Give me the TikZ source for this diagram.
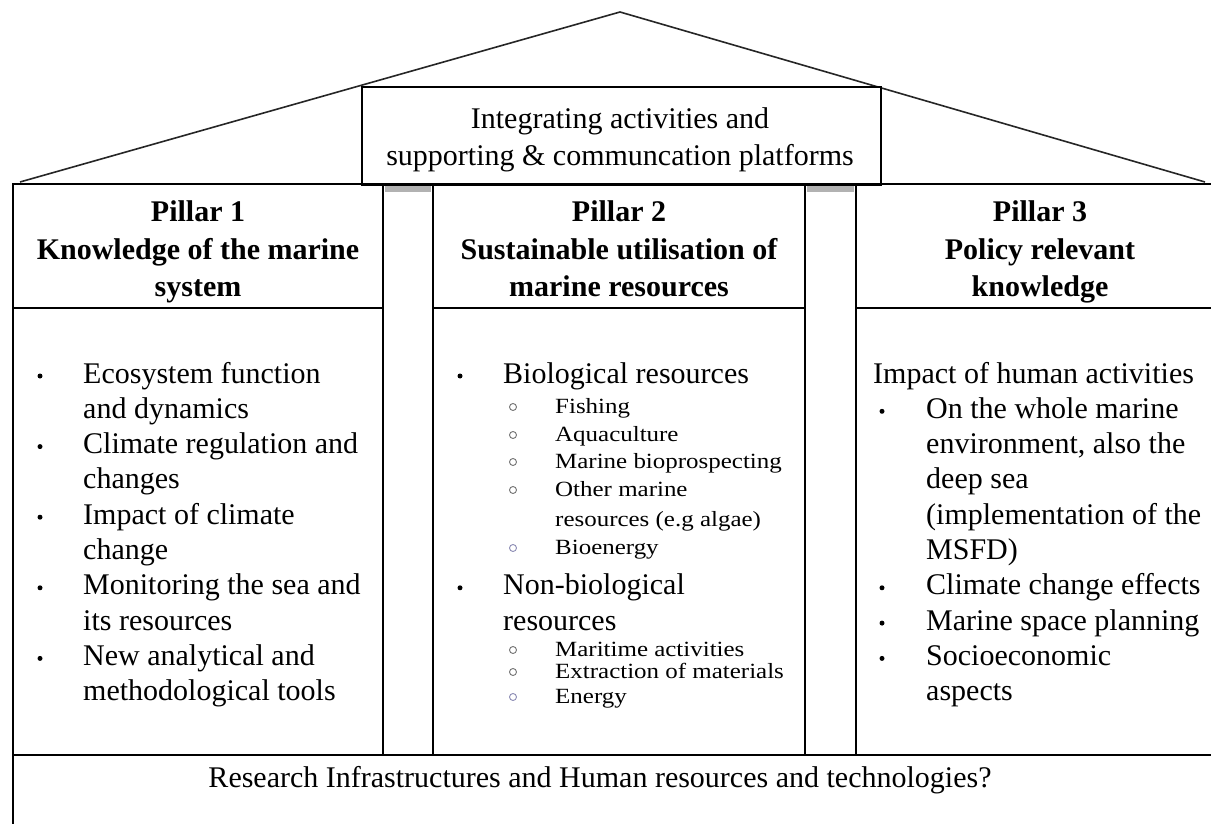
\documentclass[tikz,border=0pt]{standalone}
\usepackage{fontspec}
\setmainfont{Liberation Serif}
\newfontfamily\mysubfam[FakeStretch=1.15]{Liberation Serif}
\newcommand\mybody{\fontsize{30}{36}\selectfont}
\newcommand\mysub{\mysubfam\fontsize{21.7}{26}\selectfont}
\begin{document}
\begin{tikzpicture}[x=1pt,y=-1pt,
  frame/.style={draw=black, line width=2.6pt},
  roof/.style={draw=black!85, line width=1.6pt},
  txt/.style={anchor=base west, inner sep=0pt, font=\mybody},
  ctr/.style={anchor=base, inner sep=0pt, font=\mybody},
  hdr/.style={anchor=base, inner sep=0pt, font=\mybody\bfseries},
  sub/.style={anchor=base west, inner sep=0pt, font=\mysub},
  bul/.style={circle, fill=black, inner sep=0pt, minimum size=5pt},
  obul/.style={circle, draw=black!55, line width=0.9pt, inner sep=0pt, minimum size=7pt},
  obulb/.style={obul, draw=blue!35!black!45},
  shade/.style={fill=black!30}
]
\useasboundingbox (0,0) rectangle (1211,824);
\clip (0,0) rectangle (1211,824);
\fill[white] (0,0) rectangle (1211,824);

% roof
\coordinate (roofL) at (20,182);
\coordinate (apex) at (620,12);
\coordinate (roofR) at (1205,182);
\draw[roof] (roofL) -- (apex) -- (roofR);

% top box
\node[draw, line width=2.4pt, fill=white, minimum width=519pt, minimum height=98pt, anchor=north west, inner sep=0pt] (topbox) at (361,86) {};
\node[ctr] (top1) at (620,129) {Integrating activities and};
\node[ctr] (top2) at (620,166) {supporting \& communcation platforms};

% main beam and pillars
\draw[frame] (12,184) -- (1225,184);
\draw[frame] (13,184) rectangle (383,755);
\draw[frame] (433,184) rectangle (805,755);
\draw[frame] (856,184) rectangle (1225,755);
\draw[frame] (13,308) -- (383,308);
\draw[frame] (433,308) -- (805,308);
\draw[frame] (856,308) -- (1225,308);
\fill[shade] (385,186) rectangle (431,192);
\fill[shade] (807,186) rectangle (854,192);
% bottom band
\draw[frame] (13,755) -- (1225,755);
\draw[frame] (13,755) -- (13,830);

% headers
\node[hdr] (h1a) at (198,222) {Pillar 1};
\node[hdr] (h1b) at (198,259) {Knowledge of the marine};
\node[hdr] (h1c) at (198,296) {system};
\node[hdr] (h2a) at (619,222) {Pillar 2};
\node[hdr] (h2b) at (619,259) {Sustainable utilisation of};
\node[hdr] (h2c) at (619,296) {marine resources};
\node[hdr] (h3a) at (1040,222) {Pillar 3};
\node[hdr] (h3b) at (1040,259) {Policy relevant};
\node[hdr] (h3c) at (1040,296) {knowledge};

% pillar 1 list
\node[bul] (b1a) at (40,376) {};
\node[txt] (p1a) at (83,383) {Ecosystem function};
\node[txt] (p1b) at (83,418.3) {and dynamics};
\node[bul] (b1c) at (40,446.6) {};
\node[txt] (p1c) at (83,453.6) {Climate regulation and};
\node[txt] (p1d) at (83,488.9) {changes};
\node[bul] (b1e) at (40,517.2) {};
\node[txt] (p1e) at (83,524.2) {Impact of climate};
\node[txt] (p1f) at (83,559.5) {change};
\node[bul] (b1g) at (40,587.8) {};
\node[txt] (p1g) at (83,594.8) {Monitoring the sea and};
\node[txt] (p1h) at (83,630.1) {its resources};
\node[bul] (b1i) at (40,658.4) {};
\node[txt] (p1i) at (83,665.4) {New analytical and};
\node[txt] (p1j) at (83,700.7) {methodological tools};

% pillar 2 list
\node[bul] (b2a) at (460,376) {};
\node[txt] (p2a) at (503,383) {Biological resources};
\node[obul] (c2a) at (513,407) {};
\node[sub] (s2a) at (555,413) {Fishing};
\node[obul] (c2b) at (513,435) {};
\node[sub] (s2b) at (555,441) {Aquaculture};
\node[obul] (c2c) at (513,462) {};
\node[sub] (s2c) at (555,468) {Marine bioprospecting};
\node[obul] (c2d) at (513,490) {};
\node[sub] (s2d) at (555,496) {Other marine};
\node[sub] (s2e) at (555,526) {resources (e.g algae)};
\node[obulb] (c2f) at (513,548) {};
\node[sub] (s2f) at (555,554) {Bioenergy};
\node[bul] (b2g) at (460,587.8) {};
\node[txt] (p2g) at (503,594.8) {Non-biological};
\node[txt] (p2h) at (503,630.1) {resources};
\node[obul] (c2i) at (513,650) {};
\node[sub] (s2i) at (555,656) {Maritime activities};
\node[obul] (c2j) at (513,672) {};
\node[sub] (s2j) at (555,678) {Extraction of materials};
\node[obulb] (c2k) at (513,697) {};
\node[sub] (s2k) at (555,703) {Energy};

% pillar 3 list
\node[txt] (p3a) at (873,383) {Impact of human activities};
\node[bul] (b3b) at (882,411.3) {};
\node[txt] (p3b) at (926,418.3) {On the whole marine};
\node[txt] (p3c) at (926,453.6) {environment, also the};
\node[txt] (p3d) at (926,488.9) {deep sea};
\node[txt] (p3e) at (926,524.2) {(implementation of the};
\node[txt] (p3f) at (926,559.5) {MSFD)};
\node[bul] (b3g) at (882,587.8) {};
\node[txt] (p3g) at (926,594.8) {Climate change effects};
\node[bul] (b3h) at (882,623.1) {};
\node[txt] (p3h) at (926,630.1) {Marine space planning};
\node[bul] (b3i) at (882,658.4) {};
\node[txt] (p3i) at (926,665.4) {Socioeconomic};
\node[txt] (p3j) at (926,700.7) {aspects};

% bottom text
\node[ctr] (bottom) at (600,787) {Research Infrastructures and Human resources and technologies?};
\end{tikzpicture}
\end{document}
